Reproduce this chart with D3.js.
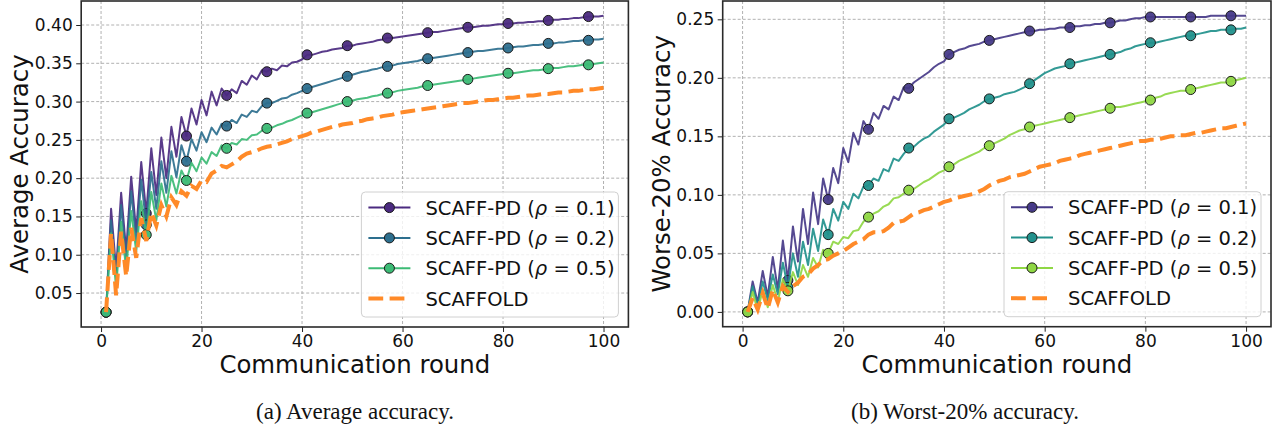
<!DOCTYPE html>
<html><head><meta charset="utf-8">
<script src="https://cdn.jsdelivr.net/npm/d3@7"></script>
<style>body{margin:0;background:#fff}svg{display:block}</style>
</head><body>
<svg id="c" width="1276" height="432"></svg>
<script>
const rounds = d3.range(1, 101);
const markerRounds = [1, 9, 17, 25, 33, 41, 49, 57, 65, 73, 81, 89, 97];
const xTicks = [0, 20, 40, 60, 80, 100];
const avgYTicks = [0.05, 0.10, 0.15, 0.20, 0.25, 0.30, 0.35, 0.40];
const worstYTicks = [0.00, 0.05, 0.10, 0.15, 0.20, 0.25];
const seriesLabels = ["0.1", "0.2", "0.5", "SCAFFOLD"];

const avgRho01 = [0.025,0.160,0.080,0.181,0.105,0.202,0.130,0.221,0.154,0.239,
0.178,0.253,0.200,0.267,0.228,0.280,0.255,0.291,0.270,0.302,
0.282,0.313,0.295,0.317,0.308,0.316,0.311,0.327,0.322,0.334,
0.329,0.341,0.339,0.343,0.341,0.347,0.346,0.351,0.352,0.355,
0.361,0.361,0.363,0.365,0.366,0.368,0.369,0.370,0.373,0.373,
0.375,0.376,0.377,0.378,0.380,0.381,0.383,0.383,0.384,0.385,
0.386,0.387,0.388,0.389,0.390,0.391,0.391,0.392,0.393,0.394,
0.395,0.396,0.397,0.397,0.398,0.399,0.399,0.400,0.401,0.401,
0.402,0.402,0.403,0.403,0.404,0.404,0.405,0.405,0.406,0.407,
0.407,0.408,0.408,0.409,0.409,0.410,0.411,0.411,0.411,0.412];

const avgRho02 = [0.025,0.145,0.068,0.165,0.092,0.183,0.116,0.198,0.139,0.208,
0.160,0.222,0.181,0.235,0.201,0.243,0.222,0.251,0.236,0.260,
0.247,0.266,0.257,0.271,0.268,0.276,0.272,0.283,0.280,0.288,
0.286,0.294,0.298,0.298,0.301,0.304,0.305,0.309,0.311,0.314,
0.317,0.319,0.321,0.323,0.325,0.327,0.329,0.331,0.333,0.335,
0.337,0.339,0.340,0.342,0.343,0.345,0.346,0.347,0.349,0.350,
0.351,0.352,0.353,0.355,0.356,0.357,0.358,0.359,0.360,0.361,
0.362,0.363,0.364,0.365,0.366,0.366,0.367,0.368,0.369,0.369,
0.370,0.371,0.372,0.372,0.373,0.374,0.374,0.375,0.376,0.376,
0.377,0.377,0.378,0.379,0.379,0.380,0.380,0.381,0.381,0.382];

const avgRho05 = [0.025,0.128,0.057,0.143,0.080,0.157,0.104,0.170,0.126,0.182,
0.145,0.193,0.163,0.203,0.180,0.210,0.197,0.220,0.209,0.227,
0.219,0.234,0.229,0.243,0.239,0.246,0.244,0.251,0.250,0.256,
0.257,0.262,0.265,0.266,0.269,0.271,0.274,0.276,0.279,0.282,
0.285,0.286,0.288,0.290,0.292,0.294,0.296,0.298,0.300,0.301,
0.303,0.304,0.305,0.307,0.308,0.310,0.311,0.312,0.314,0.315,
0.316,0.317,0.318,0.320,0.321,0.322,0.323,0.324,0.325,0.326,
0.327,0.328,0.329,0.330,0.331,0.332,0.333,0.334,0.335,0.336,
0.337,0.337,0.338,0.339,0.340,0.341,0.341,0.342,0.343,0.344,
0.344,0.345,0.346,0.346,0.347,0.348,0.348,0.349,0.350,0.351];

const avgScaffold = [0.025,0.128,0.047,0.130,0.072,0.135,0.096,0.148,0.118,0.155,
0.138,0.165,0.150,0.175,0.165,0.183,0.177,0.190,0.186,0.197,
0.195,0.206,0.210,0.216,0.214,0.218,0.222,0.228,0.232,0.234,
0.236,0.239,0.241,0.242,0.244,0.246,0.248,0.251,0.253,0.255,
0.257,0.260,0.261,0.263,0.265,0.267,0.268,0.270,0.271,0.272,
0.274,0.275,0.277,0.278,0.279,0.281,0.282,0.283,0.285,0.286,
0.287,0.288,0.289,0.290,0.291,0.292,0.293,0.294,0.295,0.296,
0.297,0.298,0.298,0.299,0.300,0.301,0.302,0.302,0.303,0.304,
0.305,0.305,0.306,0.307,0.308,0.308,0.309,0.310,0.310,0.311,
0.312,0.312,0.313,0.314,0.314,0.315,0.316,0.316,0.317,0.318];

const worstRho01 = [0.000,0.026,0.008,0.035,0.013,0.047,0.019,0.061,0.027,0.073,
0.043,0.088,0.058,0.102,0.075,0.114,0.096,0.123,0.110,0.140,
0.128,0.153,0.143,0.163,0.156,0.170,0.165,0.176,0.173,0.184,
0.181,0.192,0.191,0.196,0.199,0.202,0.205,0.209,0.212,0.214,
0.220,0.222,0.224,0.225,0.227,0.228,0.229,0.231,0.232,0.233,
0.234,0.235,0.236,0.237,0.238,0.239,0.240,0.240,0.241,0.241,
0.242,0.242,0.243,0.243,0.243,0.244,0.244,0.245,0.245,0.246,
0.246,0.247,0.247,0.248,0.249,0.249,0.250,0.251,0.251,0.252,
0.252,0.252,0.252,0.252,0.252,0.252,0.252,0.252,0.252,0.252,
0.252,0.252,0.253,0.253,0.253,0.253,0.253,0.253,0.253,0.253];

const worstRho02 = [0.000,0.022,0.005,0.026,0.010,0.032,0.015,0.042,0.021,0.050,
0.030,0.060,0.040,0.071,0.052,0.079,0.066,0.088,0.078,0.094,
0.088,0.101,0.097,0.107,0.108,0.114,0.112,0.122,0.120,0.131,
0.129,0.135,0.140,0.141,0.145,0.148,0.150,0.154,0.157,0.160,
0.165,0.166,0.168,0.170,0.173,0.175,0.177,0.180,0.182,0.183,
0.184,0.186,0.187,0.188,0.190,0.192,0.195,0.198,0.201,0.204,
0.206,0.208,0.209,0.210,0.212,0.213,0.214,0.215,0.216,0.217,
0.218,0.219,0.220,0.221,0.222,0.224,0.225,0.227,0.228,0.229,
0.230,0.230,0.231,0.232,0.233,0.234,0.235,0.236,0.236,0.237,
0.238,0.239,0.240,0.240,0.241,0.241,0.241,0.242,0.242,0.243];

const worstRho05 = [0.000,0.017,0.001,0.019,0.004,0.023,0.009,0.028,0.018,0.034,
0.023,0.040,0.030,0.046,0.038,0.053,0.050,0.060,0.058,0.064,
0.063,0.069,0.070,0.077,0.081,0.084,0.086,0.090,0.092,0.097,
0.098,0.101,0.104,0.105,0.108,0.111,0.113,0.116,0.119,0.121,
0.124,0.126,0.129,0.131,0.133,0.135,0.137,0.140,0.142,0.144,
0.146,0.148,0.151,0.153,0.155,0.156,0.158,0.159,0.160,0.161,
0.162,0.163,0.164,0.165,0.166,0.167,0.168,0.169,0.170,0.171,
0.172,0.173,0.174,0.175,0.175,0.176,0.177,0.178,0.179,0.180,
0.181,0.183,0.184,0.186,0.187,0.188,0.189,0.189,0.190,0.191,
0.192,0.193,0.194,0.195,0.196,0.196,0.197,0.198,0.199,0.200];

const worstScaffold = [0.000,0.012,0.002,0.016,0.003,0.019,0.008,0.022,0.017,0.022,
0.025,0.030,0.032,0.037,0.040,0.044,0.045,0.048,0.050,0.052,
0.055,0.058,0.060,0.062,0.066,0.068,0.068,0.069,0.072,0.076,
0.077,0.078,0.081,0.084,0.085,0.087,0.088,0.090,0.092,0.094,
0.095,0.097,0.098,0.099,0.100,0.101,0.103,0.105,0.108,0.110,
0.112,0.113,0.115,0.116,0.117,0.118,0.120,0.122,0.124,0.125,
0.126,0.127,0.129,0.130,0.131,0.132,0.134,0.135,0.136,0.137,
0.138,0.139,0.140,0.141,0.142,0.143,0.144,0.145,0.146,0.146,
0.147,0.147,0.148,0.149,0.150,0.150,0.151,0.151,0.152,0.153,
0.153,0.154,0.155,0.156,0.157,0.157,0.158,0.159,0.160,0.161];

const avgColors = ["#4b2a80", "#2d6f8e", "#3cbb75", "#ff8a28"];
const worstColors = ["#463a88", "#22918c", "#8fd744", "#ff8a28"];

const FONT = "'DejaVu Sans', sans-serif";
const svg = d3.select("#c");

function padDomain(ext) {
  const m = (ext[1] - ext[0]) * 0.05;
  return [ext[0] - m, ext[1] + m];
}

function panel(cfg) {
  const g = svg.append("g");
  const x = d3.scaleLinear().domain(padDomain([1, 100])).range([cfg.left, cfg.right]);
  const all = cfg.series.flat();
  const y = d3.scaleLinear().domain(padDomain(d3.extent(all))).range([cfg.bottom, cfg.top]);

  const grid = g.append("g").attr("stroke", "#a8a8a8").attr("stroke-width", 0.9).attr("stroke-dasharray", "3,2");
  grid.selectAll(".gx").data(xTicks).join("line").attr("class", "gx")
    .attr("x1", d => x(d)).attr("x2", d => x(d)).attr("y1", cfg.top).attr("y2", cfg.bottom);
  grid.selectAll(".gy").data(cfg.yTicks).join("line").attr("class", "gy")
    .attr("x1", cfg.left).attr("x2", cfg.right).attr("y1", d => y(d)).attr("y2", d => y(d));

  const line = d3.line().x((d, i) => x(rounds[i])).y(d => y(d));

  cfg.series.forEach((vals, k) => {
    const col = cfg.colors[k];
    if (k < 3) {
      g.append("path").datum(vals).attr("d", line).attr("fill", "none")
        .attr("stroke", col).attr("stroke-width", 2).attr("stroke-opacity", 0.92)
        .attr("stroke-linejoin", "round");
      g.append("g").selectAll("circle").data(markerRounds).join("circle")
        .attr("cx", r => x(r)).attr("cy", r => y(vals[r - 1])).attr("r", 5)
        .attr("fill", col).attr("stroke", "#1a1a1a").attr("stroke-width", 1).attr("fill-opacity", 0.95);
    } else {
      g.append("path").datum(vals).attr("d", line).attr("fill", "none")
        .attr("stroke", col).attr("stroke-width", 4).attr("stroke-dasharray", "14.8,6.4");
    }
  });

  const ax = g.append("g").attr("transform", `translate(0,${cfg.bottom})`)
    .call(d3.axisBottom(x).tickValues(xTicks).tickSize(5).tickPadding(3).tickFormat(d3.format("d")));
  const ay = g.append("g").attr("transform", `translate(${cfg.left},0)`)
    .call(d3.axisLeft(y).tickValues(cfg.yTicks).tickSize(5).tickPadding(3.5).tickFormat(d3.format(".2f")));
  [ax, ay].forEach(a => {
    a.select(".domain").remove();
    a.selectAll("line").attr("stroke", "#222").attr("stroke-width", 1);
    a.selectAll("text").attr("font-family", FONT).attr("font-size", 17).attr("fill", "#111");
  });

  g.append("rect").attr("x", cfg.left).attr("y", cfg.top)
    .attr("width", cfg.right - cfg.left).attr("height", cfg.bottom - cfg.top)
    .attr("fill", "none").attr("stroke", "#2a2a2a").attr("stroke-width", 1.6);

  g.append("text").attr("x", (cfg.left + cfg.right) / 2).attr("y", 373)
    .attr("text-anchor", "middle").attr("font-family", FONT).attr("font-size", 24.4)
    .attr("fill", "#111").text("Communication round");
  g.append("text").attr("transform", `translate(${cfg.ylabelX},${(cfg.top + cfg.bottom) / 2}) rotate(-90)`)
    .attr("text-anchor", "middle").attr("font-family", FONT).attr("font-size", 24.4)
    .attr("fill", "#111").text(cfg.ylabel);
  g.append("text").attr("x", cfg.captionX).attr("y", 419)
    .attr("text-anchor", "middle").attr("font-family", "'Liberation Serif', 'Times New Roman', serif")
    .attr("font-size", 23).attr("fill", "#111").text(cfg.caption);

  const lw = 257, lh = 125;
  const lx = cfg.right - 10 - lw, ly = cfg.bottom - 10 - lh;
  const lg = g.append("g").attr("transform", `translate(${lx},${ly})`);
  lg.append("rect").attr("width", lw).attr("height", lh).attr("rx", 4)
    .attr("fill", "#fff").attr("fill-opacity", 0.8).attr("stroke", "#d0d0d0").attr("stroke-width", 1);
  seriesLabels.forEach((lab, k) => {
    const cy = 15.6 + k * 30.3;
    const col = cfg.colors[k];
    if (k < 3) {
      lg.append("line").attr("x1", 7).attr("x2", 49).attr("y1", cy).attr("y2", cy)
        .attr("stroke", col).attr("stroke-width", 2);
      lg.append("circle").attr("cx", 28).attr("cy", cy).attr("r", 5)
        .attr("fill", col).attr("stroke", "#1a1a1a").attr("stroke-width", 1);
      const t = lg.append("text").attr("x", 64).attr("y", cy).attr("dy", "0.36em")
        .attr("font-family", FONT).attr("font-size", 19.5).attr("fill", "#111");
      t.append("tspan").text("SCAFF-PD (");
      t.append("tspan").attr("font-style", "italic").text("ρ");
      t.append("tspan").text(" = " + lab + ")");
    } else {
      lg.append("line").attr("x1", 7).attr("x2", 49).attr("y1", cy).attr("y2", cy)
        .attr("stroke", col).attr("stroke-width", 4).attr("stroke-dasharray", "14.8,6.4");
      lg.append("text").attr("x", 64).attr("y", cy).attr("dy", "0.36em")
        .attr("font-family", FONT).attr("font-size", 19.5).attr("fill", "#111").text(lab);
    }
  });
}

panel({
  left: 81.2, right: 628.4, top: 1, bottom: 327,
  series: [avgRho01, avgRho02, avgRho05, avgScaffold],
  colors: avgColors, yTicks: avgYTicks,
  ylabel: "Average Accuracy", ylabelX: 28, caption: "(a) Average accuracy.", captionX: 355
});
panel({
  left: 722.7, right: 1271, top: 1, bottom: 326.7,
  series: [worstRho01, worstRho02, worstRho05, worstScaffold],
  colors: worstColors, yTicks: worstYTicks,
  ylabel: "Worse-20% Accuracy", ylabelX: 670, caption: "(b) Worst-20% accuracy.", captionX: 965
});
</script>
</body></html>
